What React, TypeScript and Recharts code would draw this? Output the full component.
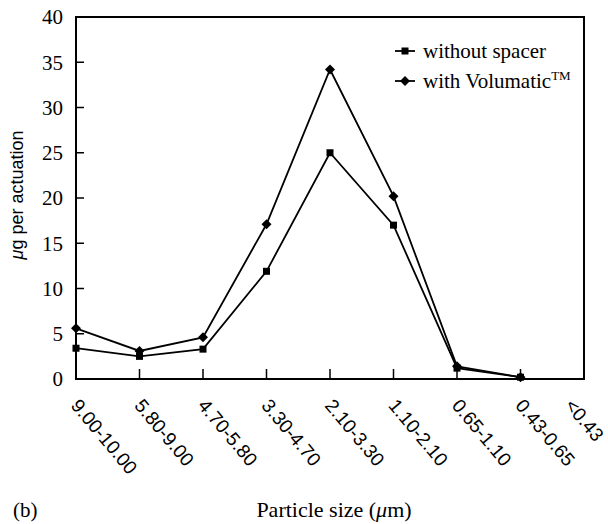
import { LineChart, Line, XAxis, YAxis, Legend, ReferenceArea } from "recharts"

const sizes = [
  "9.00-10.00",
  "5.80-9.00",
  "4.70-5.80",
  "3.30-4.70",
  "2.10-3.30",
  "1.10-2.10",
  "0.65-1.10",
  "0.43-0.65",
  "<0.43",
]
const withoutSpacer = [3.4, 2.5, 3.3, 11.9, 25.0, 17.0, 1.2, 0.2, null]
const withVolumatic = [5.6, 3.1, 4.6, 17.1, 34.2, 20.2, 1.4, 0.2, null]
const yTicks = [0, 5, 10, 15, 20, 25, 30, 35, 40]

const serif = "'Liberation Serif', 'Times New Roman', serif"
const sans = "'Liberation Sans', Arial, sans-serif"

const data = sizes.map((size, i) => ({
  size,
  without: withoutSpacer[i],
  volumatic: withVolumatic[i],
}))

function SquareDot(props: any) {
  const { cx, cy } = props
  if (cx == null || cy == null) return null
  return <rect x={cx - 3.5} y={cy - 3.5} width={7} height={7} fill="#000" />
}

function DiamondDot(props: any) {
  const { cx, cy } = props
  if (cx == null || cy == null) return null
  const r = 5
  return <polygon points={`${cx},${cy - r} ${cx + r},${cy} ${cx},${cy + r} ${cx - r},${cy}`} fill="#000" />
}

// rotated category labels, reading down-right; keep the last one inside the page
function SizeTick(props: any) {
  const { x, y, payload } = props
  const fs = 19
  const angle = 50
  const rad = (angle * Math.PI) / 180
  const approxLen = String(payload.value).length * fs * 0.5
  const reach = approxLen * Math.cos(rad) + fs * 0.72 * Math.sin(rad)
  const tx = Math.min(x - 6, 605 - reach)
  const ty = y + 27
  return (
    <text x={tx} y={ty} transform={`rotate(${angle}, ${tx}, ${ty})`} textAnchor="start" fill="#000" fontSize={fs} fontFamily={sans}>
      {payload.value}
    </text>
  )
}

function LegendBox() {
  const rows = [
    { label: "without spacer", tm: false, marker: "square" },
    { label: "with Volumatic", tm: true, marker: "diamond" },
  ]
  return (
    <div style={{ fontFamily: serif, fontSize: 21, color: "#000" }}>
      {rows.map((r) => (
        <div key={r.label} style={{ display: "flex", alignItems: "center", height: 30 }}>
          <svg width={28} height={14}>
            <line x1={0} y1={7} x2={20} y2={7} stroke="#000" strokeWidth={1.8} />
            {r.marker === "square" ? (
              <rect x={6.5} y={3.5} width={7} height={7} fill="#000" />
            ) : (
              <polygon points="10,2 15,7 10,12 5,7" fill="#000" />
            )}
          </svg>
          <span>
            {r.label}
            {r.tm && <sup style={{ fontSize: 13 }}>TM</sup>}
          </span>
        </div>
      ))}
    </div>
  )
}

export default function App() {
  return (
    <div style={{ position: "absolute", left: 0, top: 0, width: 608, height: 524, background: "#fff" }}>
      <LineChart width={608} height={524} data={data} margin={{ top: 17, right: 24, bottom: 45, left: 16 }}>
        <XAxis
          dataKey="size"
          interval={0}
          height={100}
          tickSize={-10}
          tickMargin={10}
          tick={<SizeTick />}
          axisLine={{ stroke: "#000", strokeWidth: 2 }}
          tickLine={{ stroke: "#000", strokeWidth: 1.5 }}
          label={{
            content: () => (
              <g>
                <text x={13} y={517} fontFamily={serif} fontSize={21} fill="#000">(b)</text>
                <text x={334} y={517} textAnchor="middle" fontFamily={serif} fontSize={22} fill="#000">
                  Particle size (<tspan fontStyle="italic">μ</tspan>m)
                </text>
              </g>
            ),
          }}
        />
        <YAxis
          domain={[0, 40]}
          ticks={yTicks}
          width={60}
          tickSize={-8}
          tickMargin={21}
          tick={{ fill: "#000", fontSize: 21, fontFamily: serif }}
          axisLine={{ stroke: "#000", strokeWidth: 2 }}
          tickLine={{ stroke: "#000", strokeWidth: 1.5 }}
          label={{
            content: () => (
              <text x={23} y={195} transform="rotate(-90, 23, 195)" textAnchor="middle" fontFamily={sans} fontSize={18} fill="#000">
                <tspan fontStyle="italic">μ</tspan>g per actuation
              </text>
            ),
          }}
        />
        <ReferenceArea
          x1={sizes[0]}
          x2={sizes[sizes.length - 1]}
          y1={0}
          y2={40}
          fill="none"
          stroke="#000"
          strokeWidth={2}
          fillOpacity={0}
        />
        <Legend
          layout="vertical"
          align="center"
          verticalAlign="middle"
          content={() => <LegendBox />}
          wrapperStyle={{ top: 36, left: 395, width: 200, height: 60 }}
        />
        <Line
          dataKey="without"
          name="without spacer"
          stroke="#000"
          strokeWidth={1.8}
          dot={<SquareDot />}
          isAnimationActive={false}
        />
        <Line
          dataKey="volumatic"
          name="with Volumatic"
          stroke="#000"
          strokeWidth={1.8}
          dot={<DiamondDot />}
          isAnimationActive={false}
        />
      </LineChart>
    </div>
  )
}
